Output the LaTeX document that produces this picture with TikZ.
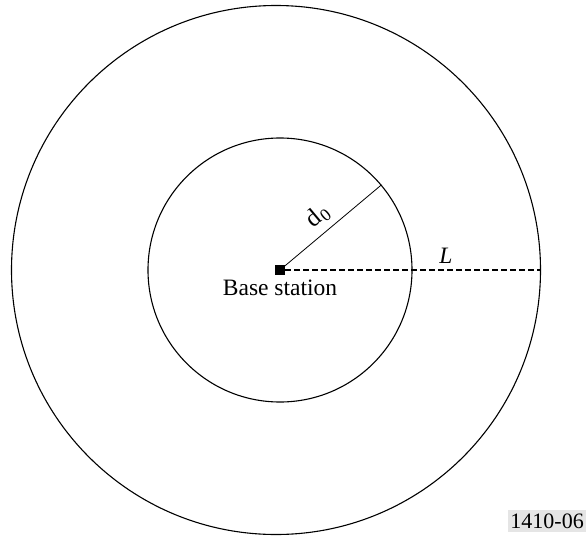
\documentclass[tikz,border=0pt]{standalone}
\usepackage{fontspec}
\setmainfont{Liberation Serif}
\begin{document}
\begin{tikzpicture}[x=1pt,y=-1pt,
  ring/.style={circle, draw, line width=1.1pt, inner sep=0pt},
  lbl/.style={font=\fontsize{23.5}{27}\selectfont, inner sep=0pt},
  dashline/.style={line width=1.8pt, dash pattern=on 6pt off 3pt}]
\useasboundingbox (0,0) rectangle (586,538);
\clip (0,0) rectangle (586,538);
\node[ring, minimum size=529pt] (outer) at (276,270) {};
\node[ring, minimum size=264pt] (inner) at (280,270) {};
\node[fill=black, minimum size=10pt, inner sep=0pt] (bs) at (280,270) {};
\draw[line width=0.8pt] (bs.center) -- (inner.40);
\draw[dashline] (bs.east) -- (outer.east);
\node[lbl, anchor=north] (bst) at (280,280) {Base station};
\node[lbl, font=\fontsize{25}{28}\selectfont, rotate=40] (d0) at (318,216) {d$_{\mathrm{0}}$};
\node[lbl, font=\fontsize{23.5}{27}\selectfont\itshape] (L) at (446,256) {L};
\node[lbl, font=\fontsize{22}{26}\selectfont, fill=black!10, anchor=east, inner xsep=2pt, inner ysep=4pt] (fig) at (586,521) {1410-06};
\end{tikzpicture}
\end{document}
